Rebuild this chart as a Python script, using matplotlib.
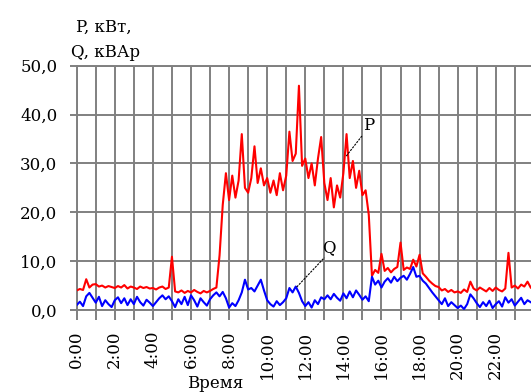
import numpy as np
import matplotlib
matplotlib.use("Agg")
import matplotlib.pyplot as plt

# active power P, kW, sampled every 10 minutes (6 values per hour)
p_kw = [
    4.0, 4.3, 4.1, 6.3, 4.6, 5.2,      # 0h
    5.3, 4.8, 5.0, 4.6, 4.9, 4.7,      # 1h
    4.5, 4.9, 4.6, 5.1, 4.4, 4.8,      # 2h
    4.6, 4.3, 4.8, 4.5, 4.7, 4.4,      # 3h
    4.5, 4.2, 4.6, 4.8, 4.3, 4.6,      # 4h
    10.9, 3.8, 3.6, 4.0, 3.5, 3.9,     # 5h
    3.6, 4.1, 3.7, 3.4, 3.9, 3.6,      # 6h
    3.9, 4.3, 4.6, 11.2, 21.5, 28.0,   # 7h
    22.5, 27.5, 23.0, 26.5, 36.0, 25.0,  # 8h
    24.0, 27.0, 33.5, 26.0, 29.0, 25.5,  # 9h
    27.0, 24.0, 26.5, 23.5, 28.0, 24.5,  # 10h
    27.5, 36.5, 30.5, 32.0, 45.9, 29.5,  # 11h
    31.0, 27.0, 30.0, 25.5, 31.0, 35.4,  # 12h
    26.0, 22.5, 27.0, 21.0, 25.5, 23.0,  # 13h
    28.0, 36.0, 27.0, 30.5, 25.0, 28.5,  # 14h
    23.5, 24.5, 19.5, 7.0, 8.2, 7.6,     # 15h
    11.5, 8.0, 8.6, 7.7, 8.4, 8.8,       # 16h
    13.8, 8.2, 8.7, 8.4, 10.3, 8.9,      # 17h
    11.3, 7.5, 6.8, 6.0, 5.4, 4.9,       # 18h
    4.7, 4.0, 4.3, 3.7, 4.1, 3.6,        # 19h
    3.8, 3.5, 4.2, 3.7, 5.8, 4.4,        # 20h
    4.0, 4.6, 4.2, 3.8, 4.5, 3.9,        # 21h
    4.6, 4.1, 3.8, 4.4, 11.7, 4.6,       # 22h
    5.0, 4.4, 5.2, 4.8, 5.8, 4.6,        # 23h
]

# reactive power Q, kVAr, same sampling
q_kvar = [
    1.0, 1.7, 0.8, 2.8, 3.5, 2.5,
    1.5, 2.7, 0.8, 2.0, 1.2, 0.6,
    2.0, 2.6, 1.4, 2.4, 1.0, 2.2,
    1.2, 2.7, 1.6, 0.9, 2.1, 1.5,
    0.8, 1.6, 2.4, 3.0, 2.2, 2.8,
    1.8, 0.6, 2.2, 1.2, 2.7, 1.0,
    3.0, 2.0, 0.7, 2.4, 1.6, 0.9,
    2.2, 3.0, 3.6, 2.8, 3.7, 2.4,
    0.5, 1.4, 0.8, 2.0, 3.6, 6.2,
    4.2, 4.5, 3.8, 5.0, 6.2, 4.0,
    2.0, 1.2, 0.7, 1.8, 1.0, 1.6,
    2.4, 4.5, 3.6, 4.8, 3.5, 1.8,
    0.8, 1.6, 0.5, 2.0, 1.2, 2.6,
    2.2, 3.0, 2.2, 3.3, 2.5, 1.9,
    3.4, 2.4, 3.8, 2.6, 4.0, 3.1,
    2.1, 2.8, 1.8, 6.8, 5.2, 6.0,
    4.6, 5.8, 6.5, 5.6, 6.8, 5.9,
    6.6, 7.0, 6.2, 7.4, 8.8, 6.8,
    7.0, 6.0, 5.4, 4.5, 3.6, 2.8,
    2.0, 1.2, 2.4, 0.8, 1.6, 1.0,
    0.4, 0.9, 0.2, 1.2, 3.2, 2.4,
    1.4, 0.6, 1.6, 0.8, 1.9, 0.4,
    1.2, 1.8, 0.7, 2.6, 1.5, 2.2,
    0.9, 1.7, 2.5, 1.2, 2.0, 1.6,
]

hours = np.arange(len(p_kw)) / 6.0

x_ticks = list(range(0, 24, 2))
x_labels = ["%d:00" % h for h in x_ticks]
y_ticks = [0, 10, 20, 30, 40, 50]
y_labels = ["0,0", "10,0", "20,0", "30,0", "40,0", "50,0"]

plt.rcParams["font.family"] = "DejaVu Serif"
grid_col = "#808080"

fig = plt.figure(figsize=(5.31, 3.92), dpi=100)
ax = fig.add_axes([76.7 / 531, 1 - 310 / 392, 1 - 76.7 / 531, (310 - 65.7) / 392])

ax.plot(hours, p_kw, color="red", lw=1.5, zorder=3)
ax.plot(hours, q_kvar, color="blue", lw=1.5, zorder=4)

ax.set_xlim(0, 23.85)
ax.set_ylim(0, 50)
ax.set_xticks(x_ticks)
ax.set_xticklabels(x_labels, rotation=90, fontsize=12)
ax.set_xticks(range(0, 24), minor=True)
ax.set_yticks(y_ticks)
ax.set_yticklabels(y_labels, fontsize=12)

ax.grid(True, which="both", color=grid_col, lw=1.4)
ax.set_axisbelow(True)
ax.tick_params(axis="x", which="both", length=7, width=1.4, color=grid_col, pad=8)
ax.tick_params(axis="y", length=5, width=1.4, color=grid_col, pad=9)
for side in ["left", "bottom", "top"]:
    ax.spines[side].set_color(grid_col)
    ax.spines[side].set_linewidth(1.4)
ax.spines["right"].set_visible(False)

# leader lines with labels
ax.plot([14.15, 14.97], [31.5, 35.6], color="black", lw=0.8, ls=(0, (2, 1)), zorder=5)
ax.text(15.34, 37.7, "P", fontsize=12, ha="center", va="center")
ax.plot([11.55, 13.0], [4.7, 10.7], color="black", lw=0.8, ls=(0, (2, 1)), zorder=5)
ax.text(13.26, 12.8, "Q", fontsize=12, ha="center", va="center")

fig.text(104 / 531, 1 - 32 / 392, "P, кВт,", fontsize=12, ha="center", va="baseline")
fig.text(106 / 531, 1 - 57 / 392, "Q, кВАр", fontsize=12, ha="center", va="baseline")
fig.text(215 / 531, 1 - 388 / 392, "Время", fontsize=12, ha="center", va="baseline")

fig.savefig("out.png", dpi=100)
